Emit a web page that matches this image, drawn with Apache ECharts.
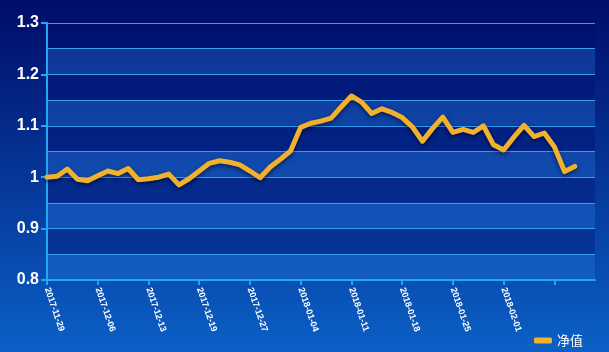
<!DOCTYPE html>
<html>
<head>
<meta charset="utf-8">
<script src="https://cdn.jsdelivr.net/npm/echarts@6/dist/echarts.min.js"></script>
<style>
html,body{margin:0;padding:0;width:609px;height:352px;overflow:hidden;}
#c{width:609px;height:352px;}
</style>
</head>
<body>
<div id="c"></div>
<script>
var categories = [
  '2017-11-29','2017-11-30','2017-12-01','2017-12-04','2017-12-05',
  '2017-12-06','2017-12-07','2017-12-08','2017-12-11','2017-12-12',
  '2017-12-13','2017-12-14','2017-12-15','2017-12-16','2017-12-18',
  '2017-12-19','2017-12-20','2017-12-21','2017-12-22','2017-12-25',
  '2017-12-27','2017-12-28','2017-12-29','2018-01-02','2018-01-03',
  '2018-01-04','2018-01-05','2018-01-08','2018-01-09','2018-01-10',
  '2018-01-11','2018-01-12','2018-01-15','2018-01-16','2018-01-17',
  '2018-01-18','2018-01-19','2018-01-22','2018-01-23','2018-01-24',
  '2018-01-25','2018-01-26','2018-01-29','2018-01-30','2018-01-31',
  '2018-02-01','2018-02-02','2018-02-05','2018-02-06','2018-02-07',
  '2018-02-08','2018-02-09','2018-02-12','2018-02-13','2018-02-14'
];
var seriesName = '净值';
var netValue = [
  1.000, 1.002, 1.016, 0.996, 0.993, 1.003, 1.012, 1.007, 1.017, 0.995,
  0.997, 1.000, 1.006, 0.985, 0.997, 1.012, 1.027, 1.032, 1.029, 1.024,
  1.012, 0.999, 1.020, 1.035, 1.051, 1.097, 1.105, 1.109, 1.115, 1.137,
  1.158, 1.146, 1.124, 1.133, 1.126, 1.116, 1.098, 1.070, 1.095, 1.117,
  1.087, 1.093, 1.087, 1.100, 1.063, 1.053, 1.078, 1.101, 1.079, 1.086,
  1.059, 1.011, 1.021
];
var yTicks = [0.8, 0.9, 1.0, 1.1, 1.2, 1.3];

var chart = echarts.init(document.getElementById('c'));
var font = 'Liberation Sans, Arial, sans-serif';
chart.setOption({
  animation: false,
  backgroundColor: {
    type: 'linear', x: 0, y: 0, x2: 0, y2: 1,
    colorStops: [
      {offset: 0, color: '#000c69'},
      {offset: 1, color: '#0b60c6'}
    ]
  },
  grid: {left: 47, right: 14, top: 23, bottom: 72},
  legend: {
    data: [seriesName],
    right: 21, bottom: 0,
    itemWidth: 18, itemHeight: 6,
    icon: 'roundRect',
    textStyle: {color: '#ffffff', fontSize: 13, fontFamily: 'Noto Sans CJK SC, sans-serif'}
  },
  xAxis: {
    type: 'category',
    data: categories,
    boundaryGap: false,
    axisLine: {lineStyle: {color: '#20a8f4', width: 2}},
    axisTick: {interval: 4, length: 5, lineStyle: {color: '#20a8f4', width: 2}},
    axisLabel: {
      interval: function (i) { return i % 5 === 0 && i < 50; },
      rotate: -71,
      color: '#ffffff',
      fontWeight: 'bold',
      fontSize: 9,
      fontFamily: font,
      margin: 8
    },
    splitLine: {show: false}
  },
  yAxis: [
    {
      type: 'value',
      min: yTicks[0], max: yTicks[yTicks.length - 1], interval: 0.05,
      axisLine: {show: true, lineStyle: {color: '#20a8f4', width: 2}},
      axisTick: {show: false},
      axisLabel: {show: false},
      splitLine: {show: true, lineStyle: {color: '#3a9ef0', width: 1}},
      splitArea: {show: true, areaStyle: {color: ['rgba(40,120,225,0.32)', 'rgba(0,12,110,0.32)']}}
    },
    {
      type: 'value',
      position: 'left',
      min: yTicks[0], max: yTicks[yTicks.length - 1], interval: 0.1,
      axisLine: {show: true, lineStyle: {color: '#20a8f4', width: 2}},
      axisTick: {show: true, length: 6, lineStyle: {color: '#20a8f4', width: 2}},
      axisLabel: {color: '#ffffff', fontWeight: 'bold', fontSize: 16, fontFamily: font, margin: 8},
      splitLine: {show: false}
    }
  ],
  series: [{
    name: seriesName,
    type: 'line',
    yAxisIndex: 0,
    data: netValue,
    symbol: 'none',
    smooth: false,
    lineStyle: {
      color: '#f2b12c', width: 5,
      shadowColor: 'rgba(0,0,30,0.6)', shadowBlur: 4, shadowOffsetY: 2,
      cap: 'round', join: 'round'
    },
    itemStyle: {color: '#f2b12c'}
  }]
});
</script>
</body>
</html>
